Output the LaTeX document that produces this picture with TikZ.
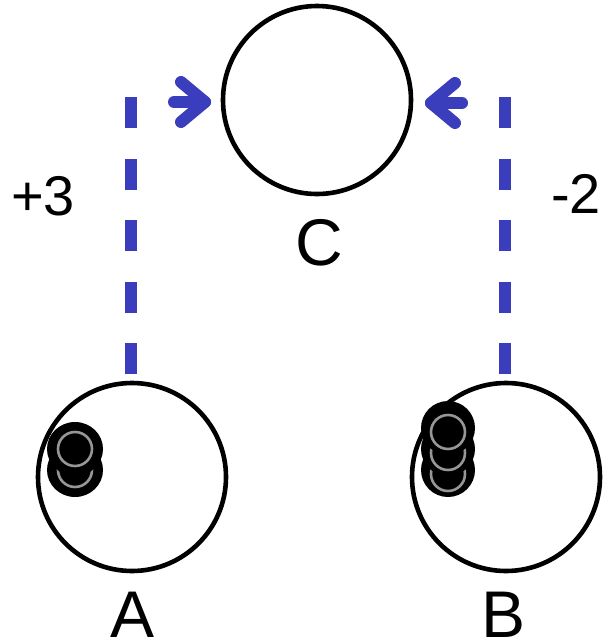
\documentclass[tikz,border=0pt]{standalone}
\usepackage{fontspec}
\setmainfont{Liberation Sans}
\usetikzlibrary{calc}
\definecolor{arrowblue}{RGB}{58,62,188}
\definecolor{coinring}{RGB}{150,150,150}
\begin{document}
\begin{tikzpicture}[x=1pt,y=-1pt,
  bigcircle/.style={circle,draw=black,line width=4.6pt,minimum size=188pt,inner sep=0pt},
  letterlabel/.style={font=\fontsize{66}{66}\selectfont,inner sep=0pt},
  numlabel/.style={font=\fontsize{56}{56}\selectfont,inner sep=0pt},
  dashline/.style={draw=arrowblue,line width=12pt,dash pattern=on 31pt off 30.5pt},
  bluearrow/.style={draw=arrowblue,line width=12pt,line cap=round,line join=round},
  coindisc/.style={fill=black,draw=none},
  coinringstyle/.style={draw=coinring,line width=2.6pt}
]
\useasboundingbox (0,0) rectangle (608,643);
\fill[white] (0,0) rectangle (608,643);

% circles
\node[bigcircle] (C) at (317,100) {};
\node[bigcircle] (A) at (132,477) {};
\node[bigcircle] (B) at (506,477) {};

% letter labels
\node[letterlabel,anchor=base] (Clab) at (319,265) {C};
\node[letterlabel,anchor=base] (Alab) at (133,637) {A};
\node[letterlabel,anchor=base] (Blab) at (504,637) {B};

% number labels
\node[numlabel,anchor=base west] (plus) at (11,215) {+3};
\node[numlabel,anchor=base west] (minus) at (551,213) {-2};

% coins in A (bottom first)
\foreach \cy in {470,449}{
  \fill[coindisc] (75,\cy) ellipse [x radius=28, y radius=27];
  \draw[coinringstyle] (75,\cy) circle [radius=17];
}
% coins in B
\foreach \cy in {470,449,428}{
  \fill[coindisc] (448,\cy) ellipse [x radius=27, y radius=27];
  \draw[coinringstyle] (448,\cy+4) circle [radius=17];
}

% dashed connectors
\coordinate (ltop) at (131,97);
\coordinate (lbot) at (131,374);
\coordinate (rtop) at (505,97);
\coordinate (rbot) at (505,374);
\draw[dashline] (lbot) -- (ltop);
\draw[dashline] (rbot) -- (rtop);

% arrows toward C
\coordinate (la0) at (174,102);
\coordinate (la1) at (205,102);
\draw[bluearrow] (la0) -- (la1);
\draw[bluearrow] ($(la1)+(-24,-20)$) -- (la1) -- ($(la1)+(-24,20)$);
\coordinate (ra0) at (462,103);
\coordinate (ra1) at (431,103);
\draw[bluearrow] (ra0) -- (ra1);
\draw[bluearrow] ($(ra1)+(24,-20)$) -- (ra1) -- ($(ra1)+(24,20)$);
\end{tikzpicture}
\end{document}
